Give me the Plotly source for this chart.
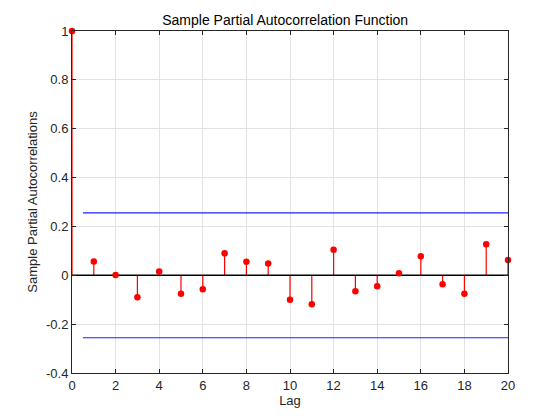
import plotly.graph_objects as go

lags = list(range(0, 21))
pacf = [1.0, 0.056, 0.001, -0.090, 0.015, -0.076, -0.057, 0.090, 0.055, 0.048,
        -0.100, -0.119, 0.105, -0.065, -0.045, 0.008, 0.078, -0.037, -0.076, 0.127, 0.063]
bound = 0.2557
bound_x = [0.5, 20.5]
x_ticks = [0, 2, 4, 6, 8, 10, 12, 14, 16, 18, 20]
y_ticks = [-0.4, -0.2, 0, 0.2, 0.4, 0.6, 0.8, 1]

fig = go.Figure()

# stems
sx, sy = [], []
for l, v in zip(lags, pacf):
    sx += [l, l, None]
    sy += [0, v, None]
fig.add_trace(go.Scatter(x=sx, y=sy, mode="lines", line=dict(color="red", width=1.2),
                         hoverinfo="skip", showlegend=False, cliponaxis=False))
# zero line
fig.add_trace(go.Scatter(x=[0, 20], y=[0, 0], mode="lines", line=dict(color="black", width=1.5),
                         showlegend=False))
# bounds
fig.add_trace(go.Scatter(x=bound_x, y=[bound, bound], mode="lines", line=dict(color="#2020ff", width=1.2),
                         showlegend=False))
fig.add_trace(go.Scatter(x=bound_x, y=[-bound, -bound], mode="lines", line=dict(color="#2020ff", width=1.2),
                         showlegend=False))
# markers
fig.add_trace(go.Scatter(x=lags, y=pacf, mode="markers", marker=dict(color="red", size=6.5),
                         showlegend=False, cliponaxis=False))

axis_common = dict(showgrid=True, gridcolor="#e3e3e3", gridwidth=1, zeroline=False,
                   showline=True, linecolor="#262626", linewidth=1, mirror="ticks",
                   ticks="inside", ticklen=4, tickcolor="#262626", automargin=False,
                   tickfont=dict(family="Liberation Sans, Arial", size=13, color="#262626"))

fig.update_layout(
    width=560, height=420,
    margin=dict(l=64, r=60, t=23, b=55),
    paper_bgcolor="white", plot_bgcolor="white",
    title=dict(text="Sample Partial Autocorrelation Function", x=0.495, xanchor="center",
               y=0.984, yanchor="top",
               font=dict(family="Liberation Sans, Arial", size=14, color="black")),
    xaxis=dict(range=[0, 20], tickvals=x_ticks,
               title=dict(text="Lag", standoff=4,
                          font=dict(family="Liberation Sans, Arial", size=13, color="#262626")),
               **axis_common),
    yaxis=dict(range=[-0.4, 1], tickvals=y_ticks,
               ticktext=[("%g" % t) for t in y_ticks],
               title=dict(text="Sample Partial Autocorrelations", standoff=5,
                          font=dict(family="Liberation Sans, Arial", size=13, color="#262626")),
               **axis_common),
)

fig.write_html("out.html")
